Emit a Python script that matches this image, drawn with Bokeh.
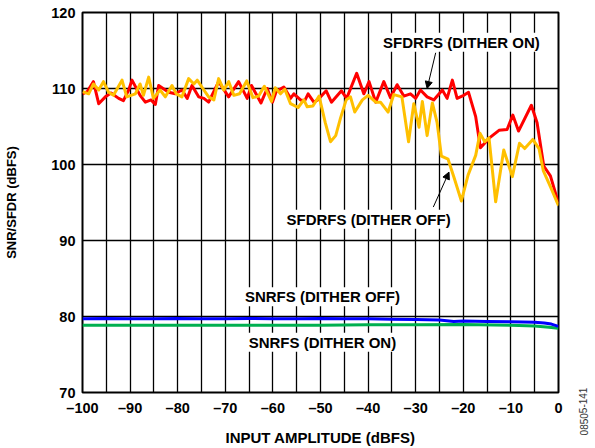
from bokeh.plotting import figure
from bokeh.models import FixedTicker, Label, Arrow, NormalHead, Range1d
from bokeh.embed import file_html
from bokeh.resources import INLINE

# ---- data ----
x_ticks = list(range(-100, 1, 10))
x_tick_labels = ["–100", "–90", "–80", "–70", "–60", "–50", "–40", "–30", "–20", "–10", "0"]
y_ticks = [70, 80, 90, 100, 110, 120]

sfdr_on_x = [-100, -99.0, -97.7, -96.6, -95.2, -94.0, -92.4, -91.4, -90.3, -89.6, -87.9, -86.8,
             -85.6, -84.7, -84.0, -81.9, -80.5, -79.1, -78.0, -77.0, -75.6, -74.5, -73.5, -71.4,
             -69.3, -67.2, -65.4, -64.5, -62.5, -61.2, -60.1, -59.3, -57.7, -56.3, -55.6, -54.2,
             -53.3, -52.6, -51.4, -50.6, -48.8, -47.7, -45.6, -44.5, -42.4, -40.9, -39.8, -38.4,
             -36.7, -35.3, -33.9, -32.5, -31.1, -30.0, -29.0, -27.6, -26.2, -24.4, -23.4, -22.3,
             -21.3, -19.9, -18.9, -17.4, -16.4, -14.5, -12.5, -10.8, -9.6, -8.4, -5.7, -4.5,
             -3.1, -1.7, 0]
sfdr_on_y = [109.3, 109.6, 110.9, 108.0, 108.9, 109.4, 108.7, 108.4, 109.8, 111.1, 109.1, 108.2,
             108.5, 107.9, 110.4, 109.5, 109.3, 109.8, 108.7, 110.4, 108.9, 108.7, 108.2, 110.9,
             108.9, 110.9, 108.7, 110.4, 108.1, 110.0, 108.2, 109.6, 110.2, 108.7, 109.3, 108.5,
             108.4, 109.3, 108.2, 108.5, 109.7, 108.2, 109.7, 108.7, 112.0, 109.3, 110.9, 108.2,
             110.9, 108.8, 110.5, 109.0, 109.3, 108.7, 109.8, 108.9, 108.5, 109.8, 108.7, 111.1,
             108.7, 109.1, 109.5, 106.3, 102.2, 103.5, 104.5, 104.6, 106.5, 104.4, 107.8, 105.5,
             99.8, 98.5, 94.9]

sfdr_off_x = [-100, -98.7, -97.7, -96.6, -95.6, -94.5, -93.5, -91.7, -90.7, -88.9, -87.9, -87.2,
              -86.1, -85.1, -83.7, -82.6, -81.2, -80.3, -79.1, -77.7, -76.6, -75.9, -74.5, -73.5,
              -72.4, -71.4, -70.3, -69.3, -68.2, -67.0, -65.5, -64.2, -63.0, -61.8, -60.3, -59.5,
              -58.4, -57.5, -56.3, -54.7, -53.5, -52.8, -51.6, -50.3, -49.0, -47.9, -46.8, -45.8,
              -44.6, -43.7, -42.8, -41.2, -40.0, -38.4, -37.4, -35.8, -34.6, -32.9, -31.5, -30.4,
              -29.3, -28.6, -27.6, -26.5, -25.5, -24.6, -23.2, -22.0, -20.4, -19.0, -17.4, -16.5,
              -15.5, -14.6, -13.2, -11.5, -9.7, -8.2, -7.1, -5.4, -4.1, -3.2, -1.7, 0]
sfdr_off_y = [109.6, 109.3, 110.6, 109.8, 110.9, 109.5, 109.1, 111.1, 108.9, 109.3, 110.6, 109.1,
              111.5, 108.7, 109.8, 108.9, 110.4, 109.3, 108.9, 111.3, 110.6, 111.1, 109.8, 108.9,
              108.5, 111.3, 109.8, 110.9, 109.1, 109.3, 111.0, 108.8, 109.0, 110.3, 108.3, 110.1,
              109.3, 109.9, 108.0, 107.5, 108.5, 107.6, 107.7, 109.0, 105.5, 103.0, 103.8, 106.1,
              108.5, 108.9, 106.9, 108.5, 109.1, 108.2, 108.2, 106.9, 109.2, 108.9, 103.0, 108.0,
              104.9, 108.3, 103.8, 108.1, 105.5, 101.1, 100.7, 98.4, 95.2, 98.6, 101.2, 104.1,
              103.0, 103.5, 95.1, 101.9, 98.4, 102.8, 102.1, 103.3, 102.1, 99.2, 97.1, 94.6]

snr_off_x = [-100, -95, -90, -85, -80, -75, -70, -65, -60, -55, -50, -45, -40, -35, -30, -25,
             -22, -20, -15, -10, -5, -3, -1.5, -0.5, 0]
snr_off_y = [79.7, 79.75, 79.7, 79.7, 79.75, 79.7, 79.7, 79.75, 79.7, 79.7, 79.75, 79.7, 79.7,
             79.65, 79.6, 79.55, 79.35, 79.4, 79.35, 79.3, 79.25, 79.15, 79.0, 78.8, 78.7]

snr_on_x = [-100, -90, -80, -70, -60, -50, -40, -30, -20, -10, -5, -2, 0]
snr_on_y = [78.85, 78.85, 78.85, 78.85, 78.85, 78.85, 78.9, 78.9, 78.95, 78.85, 78.75, 78.6, 78.45]

FONT = "Liberation Sans"

p = figure(width=595, height=448, output_backend="svg", toolbar_location=None,
           x_range=Range1d(-100, 0), y_range=Range1d(70, 120),
           min_border_left=82, min_border_right=37, min_border_top=12, min_border_bottom=55)
p.background_fill_color = "white"
p.border_fill_color = "white"
p.outline_line_color = "black"
p.outline_line_width = 2

p.xaxis.ticker = FixedTicker(ticks=x_ticks)
p.xaxis.major_label_overrides = {t: s for t, s in zip(x_ticks, x_tick_labels)}
p.yaxis.ticker = FixedTicker(ticks=y_ticks)
p.xgrid.ticker = FixedTicker(ticks=list(range(-100, 1, 5)))
p.ygrid.ticker = FixedTicker(ticks=y_ticks)
for g in (p.xgrid, p.ygrid):
    g.grid_line_color = "black"
    g.grid_line_width = 1.3
    g.grid_line_alpha = 1.0

for ax in (p.xaxis, p.yaxis):
    ax.axis_line_color = None
    ax.major_tick_line_color = None
    ax.minor_tick_line_color = None
    ax.major_tick_out = 0
    ax.major_tick_in = 0
    ax.major_label_text_font = FONT
    ax.major_label_text_font_style = "bold"
    ax.major_label_text_font_size = "14.5px"
    ax.major_label_text_color = "black"
    ax.axis_label_text_font = FONT
    ax.axis_label_text_font_style = "bold"
    ax.axis_label_text_color = "black"

p.xaxis.axis_label = "INPUT AMPLITUDE (dBFS)"
p.yaxis.axis_label = "SNR/SFDR (dBFS)"
p.xaxis.axis_label_text_font_size = "15px"
p.yaxis.axis_label_text_font_size = "13px"
p.xaxis.major_label_standoff = 7
p.xaxis.axis_label_standoff = 10
p.yaxis.major_label_standoff = 7
p.yaxis.axis_label_standoff = 29

p.line(snr_on_x, snr_on_y, line_color="#00B050", line_width=3, line_join="round")
p.line(snr_off_x, snr_off_y, line_color="#0000FF", line_width=3, line_join="round")
p.line(sfdr_on_x, sfdr_on_y, line_color="#FF0000", line_width=3, line_join="round")
p.line(sfdr_off_x, sfdr_off_y, line_color="#FFC000", line_width=3, line_join="round")

def add_label(x, y, text):
    p.add_layout(Label(x=x, y=y, text=text, text_font=FONT, text_font_style="bold",
                       text_font_size="15px", text_align="center", text_baseline="middle",
                       background_fill_color="white", padding=1, text_color="black"))

add_label(-20.4, 116.1, "SFDRFS (DITHER ON)")
add_label(-39.9, 92.8, "SFDRFS (DITHER OFF)")
add_label(-49.6, 82.6, "SNRFS (DITHER OFF)")
add_label(-49.6, 76.6, "SNRFS (DITHER ON)")

p.add_layout(Arrow(end=NormalHead(size=7, fill_color="black", line_color="black"),
                   x_start=-25.8, y_start=114.7, x_end=-27.6, y_end=110.0,
                   line_color="black", line_width=1))
p.add_layout(Arrow(end=NormalHead(size=7, fill_color="black", line_color="black"),
                   x_start=-26.3, y_start=94.4, x_end=-23.0, y_end=99.0,
                   line_color="black", line_width=1))

# figure id, placed in the right-hand side panel (screen units relative to that panel)
p.add_layout(Label(x=25, y=-19, x_units="screen", y_units="screen", text="08505-141",
                   text_font=FONT, text_font_size="10px", angle=1.5708,
                   text_align="center", text_baseline="middle", text_color="#333333"), "right")

open("out.html", "w").write(file_html(p, INLINE))
